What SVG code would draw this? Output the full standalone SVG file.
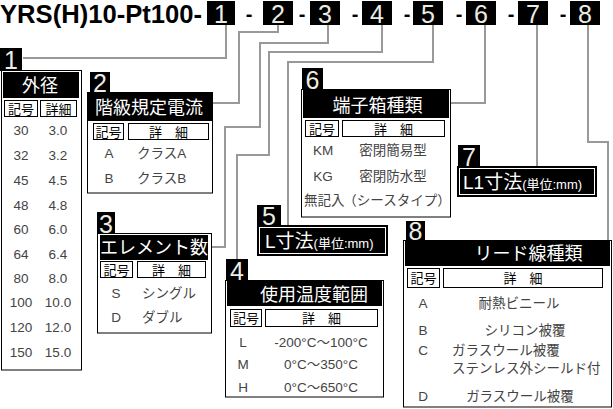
<svg xmlns="http://www.w3.org/2000/svg" width="613" height="409" viewBox="0 0 613 409">
<style>
text{font-family:"Liberation Sans","Noto Sans CJK JP",sans-serif}
.blk{fill:#000}
.ln{fill:none;stroke:#999;stroke-width:2}
.ol{fill:#fff;stroke:#000;stroke-width:1}
.in{fill:none;stroke:#fff;stroke-width:1}
.num{fill:#ecece4;font-size:25px;text-anchor:middle}
.ttl{fill:#fff;font-size:18px;text-anchor:middle}
.hd{fill:#000;font-size:13px;text-anchor:middle}
.v{fill:#444;font-size:13.5px}
.c{text-anchor:middle}
.dash{fill:#000;font-size:20px;font-weight:bold;text-anchor:middle}
</style>
<rect width="613" height="409" fill="#fff"/>
<g id="header">
<text x="0" y="23" font-size="26" font-weight="bold" textLength="202" lengthAdjust="spacingAndGlyphs">YRS(H)10-Pt100-</text>
<rect class="blk" x="207" y="1" width="28" height="24"/><text class="num" x="221" y="23">1</text>
<text class="dash" x="249" y="21">-</text>
<rect class="blk" x="263" y="1" width="30" height="24"/><text class="num" x="278" y="23">2</text>
<text class="dash" x="302" y="21">-</text>
<rect class="blk" x="310" y="1" width="30" height="24"/><text class="num" x="325" y="23">3</text>
<text class="dash" x="355" y="21">-</text>
<rect class="blk" x="362" y="1" width="30" height="24"/><text class="num" x="377" y="23">4</text>
<text class="dash" x="407" y="21">-</text>
<rect class="blk" x="413" y="1" width="30" height="24"/><text class="num" x="428" y="23">5</text>
<text class="dash" x="459" y="21">-</text>
<rect class="blk" x="466" y="1" width="30" height="24"/><text class="num" x="481" y="23">6</text>
<text class="dash" x="511" y="21">-</text>
<rect class="blk" x="518" y="1" width="30" height="24"/><text class="num" x="533" y="23">7</text>
<text class="dash" x="563" y="21">-</text>
<rect class="blk" x="570" y="1" width="30" height="24"/><text class="num" x="585" y="23">8</text>
</g>
<g id="connectors">
<path class="ln" d="M226,25 V58 H23"/>
<path class="ln" d="M278,25 V32 H239 V103 H213"/>
<path class="ln" d="M328,25 V43 H260 V127 H225 V247 H211"/>
<path class="ln" d="M382,25 V52 H269 V155 H237 V259"/>
<path class="ln" d="M433,25 V62 H288 V225"/>
<path class="ln" d="M485,25 V103 H450"/>
<path class="ln" d="M537,25 V166"/>
<path class="ln" d="M588,25 V142 H608 V240"/>
</g>
<g id="node1">
<rect class="blk" x="0" y="48" width="22" height="23"/><text class="num" x="11" y="69">1</text>
<rect class="ol" x="1.5" y="70.5" width="80" height="299.5"/>
<rect class="blk" x="3" y="72" width="76" height="26"/>
<text class="ttl" x="40" y="92" font-size="17">外径</text>
<rect class="ol" x="4.5" y="100.5" width="33" height="16"/>
<rect class="ol" x="40.5" y="100.5" width="36" height="16"/>
<text class="hd" x="21" y="113.5">記号</text>
<text class="hd" x="58.5" y="113.5">詳細</text>
<g class="v c">
<text x="21" y="135">30</text><text x="58" y="135">3.0</text>
<text x="21" y="160">32</text><text x="58" y="160">3.2</text>
<text x="21" y="185">45</text><text x="58" y="185">4.5</text>
<text x="21" y="210">48</text><text x="58" y="210">4.8</text>
<text x="21" y="234">60</text><text x="58" y="234">6.0</text>
<text x="21" y="259">64</text><text x="58" y="259">6.4</text>
<text x="21" y="283">80</text><text x="58" y="283">8.0</text>
<text x="21" y="307">100</text><text x="58" y="307">10.0</text>
<text x="21" y="332">120</text><text x="58" y="332">12.0</text>
<text x="21" y="357">150</text><text x="58" y="357">15.0</text>
</g>
</g>
<g id="node2">
<rect class="blk" x="90" y="72" width="20" height="21"/><text class="num" x="100" y="92">2</text>
<rect class="ol" x="87.5" y="92.5" width="125" height="100.5"/>
<rect class="blk" x="88" y="93" width="124" height="28"/>
<text class="ttl" x="149" y="114">階級規定電流</text>
<rect class="ol" x="93.5" y="123.5" width="30" height="16"/>
<rect class="ol" x="128.5" y="123.5" width="80" height="16"/>
<text class="hd" x="108.5" y="136.5">記号</text>
<text class="hd" x="168.5" y="136.5">詳　細</text>
<text class="v c" x="109" y="158">A</text><text class="v" x="137" y="158">クラスA</text>
<text class="v c" x="109" y="183">B</text><text class="v" x="137" y="183">クラスB</text>
</g>
<g id="node3">
<rect class="blk" x="97" y="212" width="18" height="22"/><text class="num" x="106" y="233">3</text>
<rect class="ol" x="97.5" y="233.5" width="114" height="99.5"/>
<rect class="blk" x="100" y="235" width="108" height="25"/>
<text class="ttl" x="154" y="254" font-size="16">エレメント数</text>
<rect class="ol" x="100.5" y="261.5" width="32" height="16"/>
<rect class="ol" x="137.5" y="261.5" width="68" height="16"/>
<text class="hd" x="116.5" y="274.5">記号</text>
<text class="hd" x="171.5" y="274.5">詳　細</text>
<text class="v c" x="116" y="298">S</text><text class="v" x="142" y="298">シングル</text>
<text class="v c" x="116" y="322">D</text><text class="v" x="142" y="322">ダブル</text>
</g>
<g id="node4">
<rect class="blk" x="226" y="259" width="22" height="22"/><text class="num" x="237" y="280">4</text>
<rect class="ol" x="225.5" y="280.5" width="158" height="116.5"/>
<rect class="blk" x="227" y="281" width="155" height="25"/>
<text class="ttl" x="314" y="301" font-size="19">使用温度範囲</text>
<rect class="ol" x="230.5" y="309.5" width="31" height="17"/>
<rect class="ol" x="265.5" y="309.5" width="112" height="17"/>
<text class="hd" x="246" y="323">記号</text>
<text class="hd" x="321.5" y="323">詳　細</text>
<text class="v c" x="243" y="347">L</text><text class="v c" x="321" y="347">-200°C～100°C</text>
<text class="v c" x="243" y="369">M</text><text class="v c" x="321" y="369">0°C～350°C</text>
<text class="v c" x="243" y="392">H</text><text class="v c" x="321" y="392">0°C～650°C</text>
</g>
<g id="node5">
<rect class="blk" x="257" y="205" width="24" height="21"/><text class="num" x="269" y="225">5</text>
<rect class="blk" x="257" y="225" width="131" height="31"/>
<rect class="in" x="259.5" y="227.5" width="126" height="26"/>
<text x="265" y="248" fill="#fff" font-size="19">L寸法<tspan font-size="13">(単位:mm)</tspan></text>
</g>
<g id="node6">
<rect class="blk" x="302" y="68" width="21" height="22"/><text class="num" x="312.5" y="89">6</text>
<rect class="ol" x="301.5" y="89.5" width="149" height="127.5"/>
<rect class="blk" x="303" y="90" width="146" height="28"/>
<text class="ttl" x="377.5" y="112">端子箱種類</text>
<rect class="ol" x="305.5" y="120.5" width="33" height="16"/>
<rect class="ol" x="342.5" y="120.5" width="102" height="16"/>
<text class="hd" x="322" y="133.5">記号</text>
<text class="hd" x="393.5" y="133.5">詳　細</text>
<text class="v c" x="323" y="155">KM</text><text class="v c" x="393" y="155">密閉簡易型</text>
<text class="v c" x="323" y="181">KG</text><text class="v c" x="393" y="181">密閉防水型</text>
<text class="v" x="304" y="205" font-size="11">無記入</text><text class="v c" x="397" y="205" font-size="13">（シースタイプ）</text>
</g>
<g id="node7">
<rect class="blk" x="458" y="145" width="22" height="22"/><text class="num" x="469" y="166">7</text>
<rect class="blk" x="457" y="166" width="140" height="31"/>
<rect class="in" x="459.5" y="168.5" width="135" height="26"/>
<text x="463" y="189" fill="#fff" font-size="19">L1寸法<tspan font-size="13">(単位:mm)</tspan></text>
</g>
<g id="node8">
<rect class="blk" x="406" y="221" width="19" height="20"/><text class="num" x="415.5" y="240">8</text>
<rect class="ol" x="403.5" y="240.5" width="208" height="166.5"/>
<rect class="blk" x="405" y="241" width="205" height="25"/>
<text class="ttl" x="528.5" y="260">リード線種類</text>
<rect class="ol" x="407.5" y="268.5" width="32" height="19"/>
<rect class="ol" x="443.5" y="268.5" width="159" height="19"/>
<text class="hd" x="423.5" y="283">記号</text>
<text class="hd" x="523" y="283">詳　細</text>
<text class="v c" x="423" y="308">A</text><text class="v c" x="519" y="308">耐熱ビニール</text>
<text class="v c" x="423" y="335">B</text><text class="v c" x="525" y="335">シリコン被覆</text>
<text class="v c" x="423" y="355">C</text><text class="v" x="452" y="355">ガラスウール被覆</text>
<text class="v" x="452" y="373">ステンレス外シールド付</text>
<text class="v c" x="423" y="401">D</text><text class="v c" x="520" y="401">ガラスウール被覆</text>
</g>
</svg>
